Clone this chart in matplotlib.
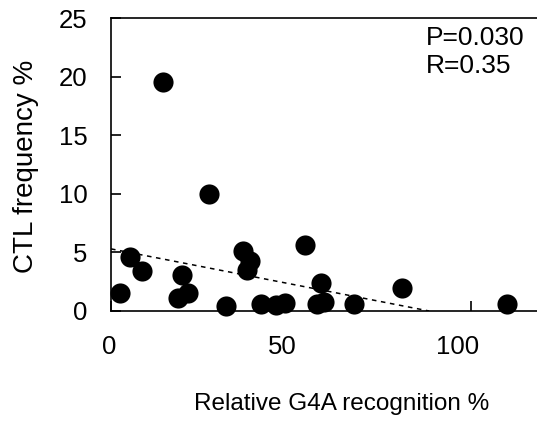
import matplotlib
matplotlib.use("Agg")
import matplotlib.pyplot as plt
from matplotlib.transforms import ScaledTranslation
import numpy as np

# Relative G4A recognition (%) vs CTL frequency (%)
recognition = [14.4, 27.2, 2.5, 5.3, 8.6, 19.7, 18.6, 21.4, 31.9, 36.7, 38.6,
               37.7, 41.7, 45.8, 48.3, 53.9, 57.2, 59.2, 58.3, 67.5, 80.8, 110.0]
ctl_freq = [19.5, 10.0, 1.5, 4.6, 3.4, 3.1, 1.1, 1.5, 0.4, 5.1, 4.3,
            3.5, 0.6, 0.5, 0.7, 5.6, 0.6, 0.8, 2.4, 0.6, 2.0, 0.6]

# Regression line (clipped at zero)
fit_intercept = 5.3
fit_slope = -0.06

x_ticks = [0, 50, 100]
y_ticks = [0, 5, 10, 15, 20, 25]
stats_text = "P=0.030\nR=0.35"

plt.rcParams['font.family'] = ['Liberation Sans', 'DejaVu Sans']

fig = plt.figure(figsize=(5.37, 4.30), dpi=100)
ax = fig.add_axes([111 / 537, 119 / 430, 426 / 537, 293 / 430])

ax.plot(recognition, ctl_freq, 'o', color='black', markersize=14.5,
        markeredgewidth=0, zorder=3, clip_on=False)

x_end = -fit_intercept / fit_slope
xs = np.array([0, x_end])
ax.plot(xs, fit_intercept + fit_slope * xs, color='black', lw=1.1,
        ls=(0, (3, 3)), zorder=2)

ax.set_xlim(0, 118.3)
ax.set_ylim(0, 25)
ax.set_xticks(x_ticks)
ax.set_yticks(y_ticks)

for side in ['left', 'bottom', 'top']:
    ax.spines[side].set_linewidth(1.2)
ax.spines['right'].set_visible(False)

ax.tick_params(axis='both', direction='in', length=7, width=1.2,
               labelsize=18.5, pad=17)

# nudge x tick labels slightly left
offsets_px = [-2, -9, -14]
for lab, dx in zip(ax.get_xticklabels(), offsets_px):
    lab.set_transform(lab.get_transform() + ScaledTranslation(dx / 100, 0, fig.dpi_scale_trans))

ax.set_xlabel("Relative G4A recognition %", fontsize=17.5)
ax.xaxis.set_label_coords((342 - 111) / 426, (311 - 404) / 293)
ax.xaxis.label.set_verticalalignment('center')

ax.set_ylabel("CTL frequency %", fontsize=20)
ax.yaxis.set_label_coords((26 - 111) / 426, (311 - 166) / 293)
ax.yaxis.label.set_verticalalignment('center')

ax.text((426 - 111) / 426, (311 - 52) / 293, stats_text, transform=ax.transAxes,
        fontsize=19, ha='left', va='center', linespacing=1.25)

fig.savefig("out.png", dpi=100)
